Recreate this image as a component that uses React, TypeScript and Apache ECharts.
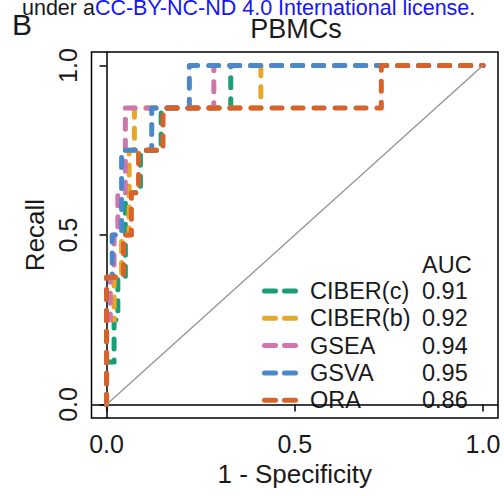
import React, { useEffect, useRef } from 'react';
import * as echarts from 'echarts';

const methods = ['CIBER(c)', 'CIBER(b)', 'GSEA', 'GSVA', 'ORA'];
const aucValues = ['0.91', '0.92', '0.94', '0.95', '0.86'];
const colors = ['#1B9E77', '#E8A628', '#CF77AC', '#4B88C9', '#D7632B'];

const fprCiberC = [0, 0, 0.02, 0.02, 0.03, 0.03, 0.05, 0.05, 0.09, 0.09, 0.145, 0.145, 0.33, 0.33, 1];
const tprCiberC = [0, 0.125, 0.125, 0.25, 0.25, 0.375, 0.375, 0.625, 0.625, 0.75, 0.75, 0.875, 0.875, 1, 1];

const fprCiberB = [0, 0, 0.02, 0.02, 0.04, 0.04, 0.06, 0.06, 0.074, 0.074, 0.41, 0.41, 1];
const tprCiberB = [0, 0.25, 0.25, 0.375, 0.375, 0.5, 0.5, 0.75, 0.75, 0.875, 0.875, 1, 1];

const fprGsea = [0, 0, 0.01, 0.01, 0.02, 0.02, 0.03, 0.03, 0.05, 0.05, 0.285, 0.285, 1];
const tprGsea = [0, 0.25, 0.25, 0.375, 0.375, 0.5, 0.5, 0.625, 0.625, 0.875, 0.875, 1, 1];

const fprGsva = [0, 0, 0.015, 0.015, 0.04, 0.04, 0.12, 0.12, 0.22, 0.22, 1];
const tprGsva = [0, 0.375, 0.375, 0.5, 0.5, 0.75, 0.75, 0.875, 0.875, 1, 1];

const fprOra = [0, 0, 0.045, 0.045, 0.066, 0.066, 0.085, 0.085, 0.15, 0.15, 0.73, 0.73, 1];
const tprOra = [0, 0.375, 0.375, 0.5, 0.5, 0.625, 0.625, 0.75, 0.75, 0.875, 0.875, 1, 1];

const curves = [
  [fprCiberC, tprCiberC],
  [fprCiberB, tprCiberB],
  [fprGsea, tprGsea],
  [fprGsva, tprGsva],
  [fprOra, tprOra],
];

const tickValues = [0, 0.5, 1];
const diagonal = [[0, 0], [1, 1]];

const FONT = '"Liberation Sans", Arial, Helvetica, sans-serif';

export default function App() {
  const ref = useRef<HTMLDivElement>(null);
  useEffect(() => {
    if (!ref.current) return;
    const chart = echarts.init(ref.current, undefined, { renderer: 'svg' });

    const series: any[] = curves.map(([fx, ty], i) => ({
      type: 'line',
      name: methods[i],
      data: fx.map((v, j) => [v, ty[j]]),
      showSymbol: false,
      symbol: 'none',
      lineStyle: {
        color: colors[i],
        width: 5,
        type: [10, 11],
        cap: 'round',
        join: 'round',
      },
      z: 2 + i,
    }));
    series.push({
      type: 'line',
      data: diagonal,
      symbol: 'none',
      lineStyle: { color: '#999999', width: 1.5 },
      z: 10,
    });

    const rowY0 = 291;
    const rowStep = 27.3;
    const legendFont = `23.5px ${FONT}`;
    const legend: any[] = [];
    legend.push({
      type: 'text',
      x: 422,
      y: 265,
      style: { text: 'AUC', font: legendFont, fill: '#1a1a1a', textVerticalAlign: 'middle' },
    });
    methods.forEach((m, i) => {
      const y = rowY0 + i * rowStep;
      legend.push({
        type: 'line',
        shape: { x1: 264.5, y1: y, x2: 295.5, y2: y },
        style: { stroke: colors[i], lineWidth: 5, lineDash: [11, 9], lineCap: 'round' },
      });
      legend.push({
        type: 'text',
        x: 310,
        y,
        style: { text: m, font: legendFont, fill: '#1a1a1a', textVerticalAlign: 'middle' },
      });
      legend.push({
        type: 'text',
        x: 422,
        y,
        style: { text: aucValues[i], font: legendFont, fill: '#1a1a1a', textVerticalAlign: 'middle' },
      });
    });

    const option: any = {
      animation: false,
      backgroundColor: '#ffffff',
      grid: {
        left: 91.5,
        top: 52,
        width: 406.5,
        height: 366,
        show: true,
        borderColor: '#000',
        borderWidth: 1.5,
        containLabel: false,
      },
      xAxis: {
        type: 'value',
        min: -0.04,
        max: 1.04,
        name: '1 - Specificity',
        nameLocation: 'middle',
        nameGap: 43,
        nameTextStyle: { fontSize: 26, fontFamily: FONT, color: '#1a1a1a' },
        splitLine: { show: false },
        axisLine: { show: true, lineStyle: { color: '#000', width: 1.5 } },
        axisTick: { show: true, length: 7, customValues: tickValues, lineStyle: { color: '#000', width: 1.5 } },
        axisLabel: {
          customValues: tickValues,
          formatter: (v: number) => v.toFixed(1),
          fontSize: 25,
          fontFamily: FONT,
          color: '#1a1a1a',
          margin: 13,
        },
      },
      yAxis: {
        type: 'value',
        min: -0.04,
        max: 1.04,
        name: 'Recall',
        nameLocation: 'middle',
        nameGap: 43,
        nameTextStyle: { fontSize: 26, fontFamily: FONT, color: '#1a1a1a' },
        splitLine: { show: false },
        axisLine: { show: true, lineStyle: { color: '#000', width: 1.5 } },
        axisTick: { show: true, length: 7, customValues: tickValues, lineStyle: { color: '#000', width: 1.5 } },
        axisLabel: {
          customValues: tickValues,
          formatter: (v: number) => v.toFixed(1),
          fontSize: 25,
          fontFamily: FONT,
          color: '#1a1a1a',
          rotate: 90,
          margin: 11,
        },
      },
      series,
      graphic: [
        {
          type: 'text',
          x: 22,
          y: 8,
          style: {
            text: 'under a{b|CC-BY-NC-ND 4.0 International license}.',
            font: `21.5px ${FONT}`,
            fill: '#1a1a1a',
            textVerticalAlign: 'middle',
            rich: {
              b: { fill: '#1515F5', font: `21.5px ${FONT}` } as any,
            },
          },
        },
        {
          type: 'text',
          x: 12,
          y: 24,
          style: { text: 'B', font: `30px ${FONT}`, fill: '#1a1a1a', textVerticalAlign: 'middle' },
        },
        {
          type: 'text',
          x: 296,
          y: 29,
          style: { text: 'PBMCs', font: `27px ${FONT}`, fill: '#1a1a1a', textAlign: 'center', textVerticalAlign: 'middle' },
        },
        ...legend,
      ],
    };
    chart.setOption(option);
    return () => chart.dispose();
  }, []);
  return <div ref={ref} style={{ width: 504, height: 496, position: 'absolute', left: 0, top: 0 }} />;
}
